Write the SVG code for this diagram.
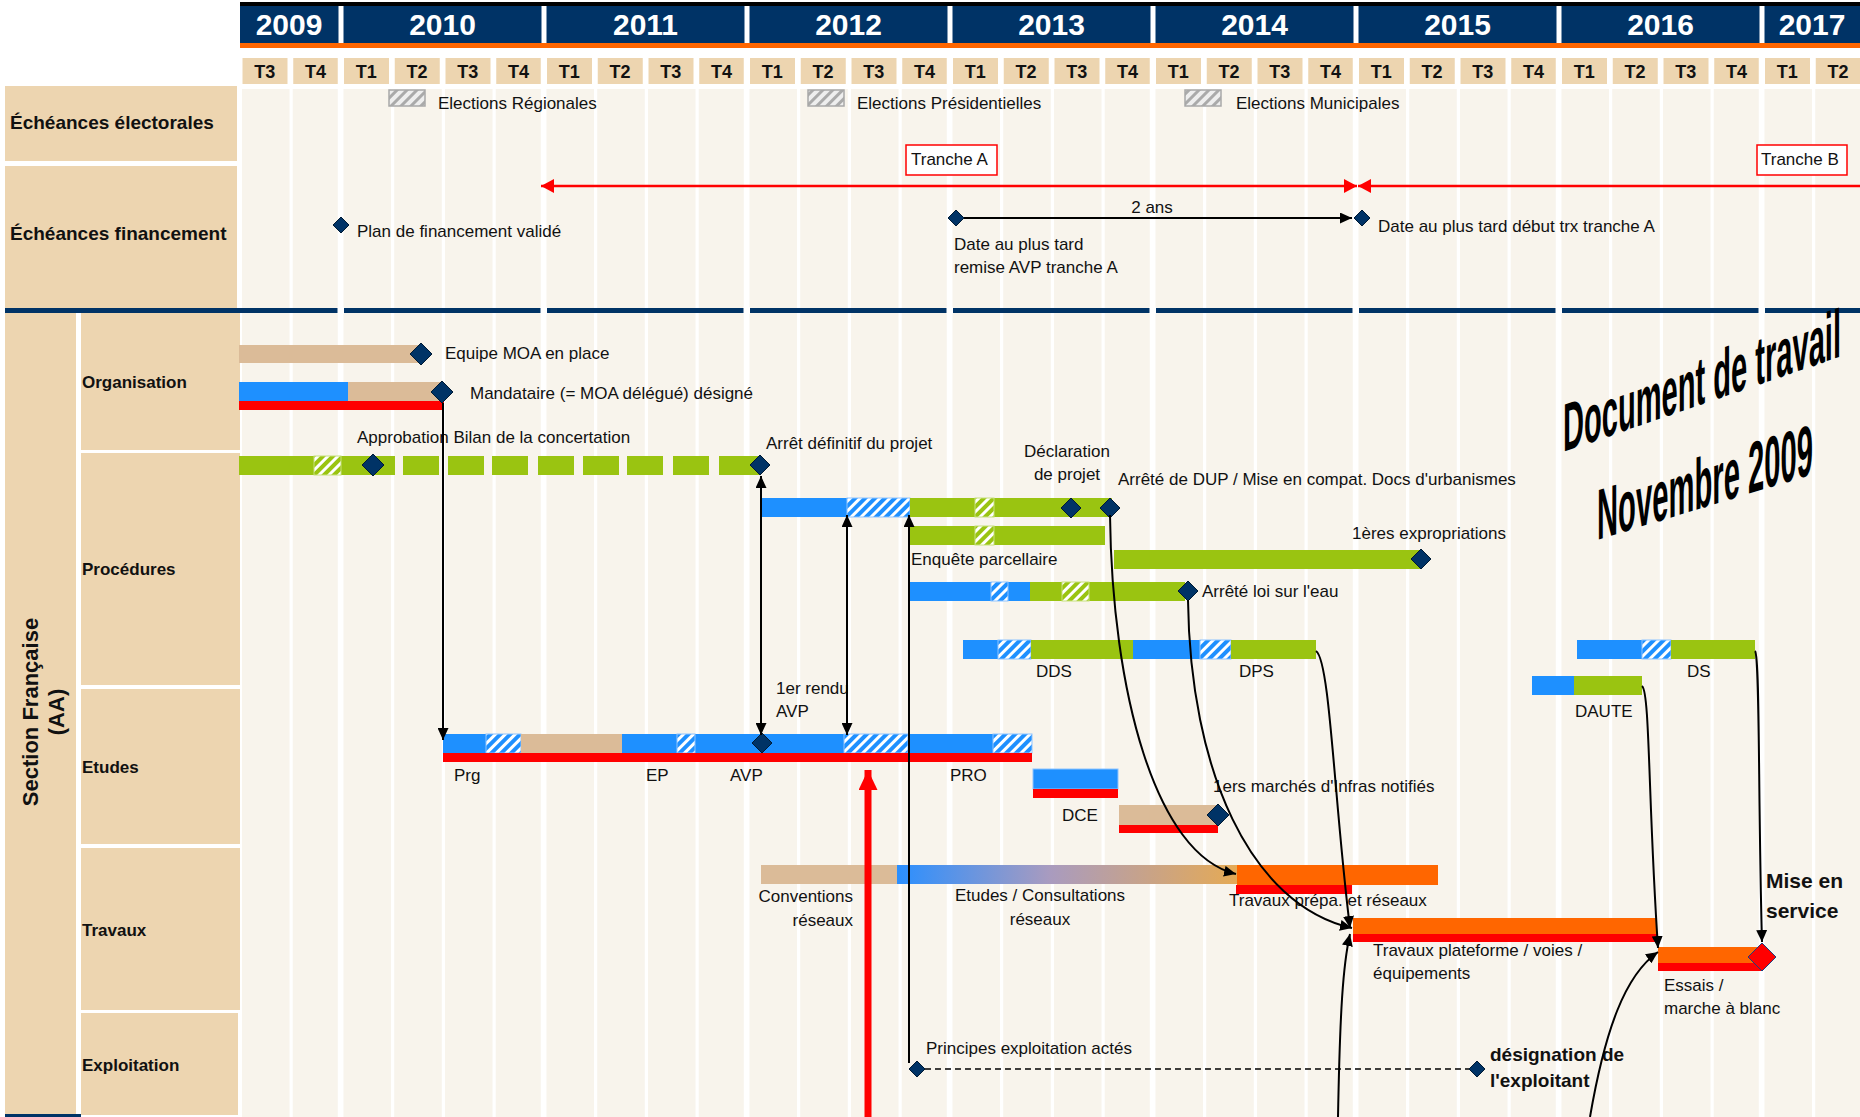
<svg xmlns="http://www.w3.org/2000/svg" width="1860" height="1117" viewBox="0 0 1860 1117">
<style>
.t{font-family:"Liberation Sans",Arial,sans-serif;font-size:17px;fill:#111}
.b{font-weight:bold}
.mid{text-anchor:middle}
.end{text-anchor:end}
.hy{font-family:"Liberation Sans",Arial,sans-serif;font-size:30px;font-weight:bold;fill:#fff;text-anchor:middle}
.hq{font-family:"Liberation Sans",Arial,sans-serif;font-size:18px;font-weight:bold;fill:#111;text-anchor:middle}
.col{fill:#F8F4EC}
.cell{fill:#EDD5B0}
.tan{fill:#DBBB98}
.blue{fill:#1E90FF}
.green{fill:#9AC411}
.red{fill:#FF0000}
.orange{fill:#FF6600}
.dia{fill:#003366;stroke:#001A33;stroke-width:1}
.hb{fill:url(#hatchBlue);stroke:#8EC3FF;stroke-width:1}
.hg{fill:url(#hatchGreen);stroke:#C6E07C;stroke-width:1}
.hgr{fill:url(#hatchGray);stroke:#A8A8A8;stroke-width:1.5}
.con{fill:none;stroke:#000;stroke-width:2}
</style>
<defs>
<pattern id="hatchBlue" width="7" height="7" patternUnits="userSpaceOnUse" patternTransform="rotate(45)"><rect width="7" height="7" fill="#1E90FF"/><rect width="3" height="7" fill="#fff"/></pattern>
<pattern id="hatchGreen" width="7" height="7" patternUnits="userSpaceOnUse" patternTransform="rotate(45)"><rect width="7" height="7" fill="#9AC411"/><rect width="3" height="7" fill="#fff"/></pattern>
<pattern id="hatchGray" width="7" height="7" patternUnits="userSpaceOnUse" patternTransform="rotate(45)"><rect width="7" height="7" fill="#EEEEEE"/><rect width="3" height="7" fill="#AAAAAA"/></pattern>
<linearGradient id="gradEC" x1="0" y1="0" x2="1" y2="0"><stop offset="0" stop-color="#2A8FFF"/><stop offset="0.45" stop-color="#A99BBF"/><stop offset="1" stop-color="#E5AA55"/></linearGradient>
<marker id="ab" viewBox="0 0 12 11" refX="12" refY="5.5" markerWidth="12" markerHeight="11" markerUnits="userSpaceOnUse" orient="auto-start-reverse"><path d="M0,0 L12,5.5 L0,11 z" fill="#000"/></marker>
<marker id="ar" viewBox="0 0 13 14" refX="13" refY="7" markerWidth="13" markerHeight="14" markerUnits="userSpaceOnUse" orient="auto-start-reverse"><path d="M0,0 L13,7 L0,14 z" fill="#FF0000"/></marker>
<marker id="abr" viewBox="0 0 20 19" refX="20" refY="9.5" markerWidth="20" markerHeight="19" markerUnits="userSpaceOnUse" orient="auto"><path d="M0,0 L20,9.5 L0,19 z" fill="#FF0000"/></marker>
</defs>
<rect width="1860" height="1117" fill="#fff"/>

<g id="columns">
<rect class="col" x="242" y="89" width="47.5" height="1028"/>
<rect class="col" x="292.75" y="89" width="45" height="1028"/>
<rect class="col" x="343.5" y="89" width="47.5" height="1028"/>
<rect class="col" x="394.25" y="89" width="47.5" height="1028"/>
<rect class="col" x="445" y="89" width="47.5" height="1028"/>
<rect class="col" x="495.75" y="89" width="45" height="1028"/>
<rect class="col" x="546.5" y="89" width="47.5" height="1028"/>
<rect class="col" x="597.25" y="89" width="47.5" height="1028"/>
<rect class="col" x="648" y="89" width="47.5" height="1028"/>
<rect class="col" x="698.75" y="89" width="45" height="1028"/>
<rect class="col" x="749.5" y="89" width="47.5" height="1028"/>
<rect class="col" x="800.25" y="89" width="47.5" height="1028"/>
<rect class="col" x="851" y="89" width="47.5" height="1028"/>
<rect class="col" x="901.75" y="89" width="45" height="1028"/>
<rect class="col" x="952.5" y="89" width="47.5" height="1028"/>
<rect class="col" x="1003.25" y="89" width="47.5" height="1028"/>
<rect class="col" x="1054" y="89" width="47.5" height="1028"/>
<rect class="col" x="1104.75" y="89" width="45" height="1028"/>
<rect class="col" x="1155.5" y="89" width="47.5" height="1028"/>
<rect class="col" x="1206.25" y="89" width="47.5" height="1028"/>
<rect class="col" x="1257" y="89" width="47.5" height="1028"/>
<rect class="col" x="1307.75" y="89" width="45" height="1028"/>
<rect class="col" x="1358.5" y="89" width="47.5" height="1028"/>
<rect class="col" x="1409.25" y="89" width="47.5" height="1028"/>
<rect class="col" x="1460" y="89" width="47.5" height="1028"/>
<rect class="col" x="1510.75" y="89" width="45" height="1028"/>
<rect class="col" x="1561.5" y="89" width="47.5" height="1028"/>
<rect class="col" x="1612.25" y="89" width="47.5" height="1028"/>
<rect class="col" x="1663" y="89" width="47.5" height="1028"/>
<rect class="col" x="1713.75" y="89" width="45" height="1028"/>
<rect class="col" x="1764.5" y="89" width="47.5" height="1028"/>
<rect class="col" x="1815.25" y="89" width="44.75" height="1028"/>
</g>

<g id="header">
<rect x="240" y="2" width="1620" height="5" fill="#000"/>
<rect x="240" y="6" width="1620" height="37" fill="#003366"/>
<rect x="240" y="43" width="1620" height="5" fill="#FF6600"/>
<g fill="#fff">
<rect x="338.5" y="6" width="5" height="37"/><rect x="541.5" y="6" width="5" height="37"/><rect x="744.5" y="6" width="5" height="37"/><rect x="947.5" y="6" width="5" height="37"/><rect x="1150.5" y="6" width="5" height="37"/><rect x="1353.5" y="6" width="5" height="37"/><rect x="1556.5" y="6" width="5" height="37"/><rect x="1759.5" y="6" width="5" height="37"/>
</g>
<text class="hy" x="289" y="35">2009</text><text class="hy" x="442.5" y="35">2010</text><text class="hy" x="645.5" y="35">2011</text><text class="hy" x="848.5" y="35">2012</text><text class="hy" x="1051.5" y="35">2013</text><text class="hy" x="1254.5" y="35">2014</text><text class="hy" x="1457.5" y="35">2015</text><text class="hy" x="1660.5" y="35">2016</text><text class="hy" x="1812" y="35">2017</text>
<g class="cell">
<rect x="242.5" y="58" width="45" height="26"/><rect x="293.25" y="58" width="44.5" height="26"/><rect x="344" y="58" width="45" height="26"/><rect x="394.75" y="58" width="45" height="26"/><rect x="445.5" y="58" width="45" height="26"/><rect x="496.25" y="58" width="44.5" height="26"/><rect x="547" y="58" width="45" height="26"/><rect x="597.75" y="58" width="45" height="26"/><rect x="648.5" y="58" width="45" height="26"/><rect x="699.25" y="58" width="44.5" height="26"/><rect x="750" y="58" width="45" height="26"/><rect x="800.75" y="58" width="45" height="26"/><rect x="851.5" y="58" width="45" height="26"/><rect x="902.25" y="58" width="44.5" height="26"/><rect x="953" y="58" width="45" height="26"/><rect x="1003.75" y="58" width="45" height="26"/><rect x="1054.5" y="58" width="45" height="26"/><rect x="1105.25" y="58" width="44.5" height="26"/><rect x="1156" y="58" width="45" height="26"/><rect x="1206.75" y="58" width="45" height="26"/><rect x="1257.5" y="58" width="45" height="26"/><rect x="1308.25" y="58" width="44.5" height="26"/><rect x="1359" y="58" width="45" height="26"/><rect x="1409.75" y="58" width="45" height="26"/><rect x="1460.5" y="58" width="45" height="26"/><rect x="1511.25" y="58" width="44.5" height="26"/><rect x="1562" y="58" width="45" height="26"/><rect x="1612.75" y="58" width="45" height="26"/><rect x="1663.5" y="58" width="45" height="26"/><rect x="1714.25" y="58" width="44.5" height="26"/><rect x="1765" y="58" width="45" height="26"/><rect x="1815.75" y="58" width="44.25" height="26"/>
</g>
<text class="hq" x="264.75" y="78">T3</text><text class="hq" x="315.5" y="78">T4</text><text class="hq" x="366.25" y="78">T1</text><text class="hq" x="417" y="78">T2</text><text class="hq" x="467.75" y="78">T3</text><text class="hq" x="518.5" y="78">T4</text><text class="hq" x="569.25" y="78">T1</text><text class="hq" x="620" y="78">T2</text><text class="hq" x="670.75" y="78">T3</text><text class="hq" x="721.5" y="78">T4</text><text class="hq" x="772.25" y="78">T1</text><text class="hq" x="823" y="78">T2</text><text class="hq" x="873.75" y="78">T3</text><text class="hq" x="924.5" y="78">T4</text><text class="hq" x="975.25" y="78">T1</text><text class="hq" x="1026" y="78">T2</text><text class="hq" x="1076.75" y="78">T3</text><text class="hq" x="1127.5" y="78">T4</text><text class="hq" x="1178.25" y="78">T1</text><text class="hq" x="1229" y="78">T2</text><text class="hq" x="1279.75" y="78">T3</text><text class="hq" x="1330.5" y="78">T4</text><text class="hq" x="1381.25" y="78">T1</text><text class="hq" x="1432" y="78">T2</text><text class="hq" x="1482.75" y="78">T3</text><text class="hq" x="1533.5" y="78">T4</text><text class="hq" x="1584.25" y="78">T1</text><text class="hq" x="1635" y="78">T2</text><text class="hq" x="1685.75" y="78">T3</text><text class="hq" x="1736.5" y="78">T4</text><text class="hq" x="1787.25" y="78">T1</text><text class="hq" x="1838" y="78">T2</text>
</g>

<g id="row-labels">
<rect class="cell" x="5" y="86" width="232" height="75"/>
<text class="t b" x="10" y="129" style="font-size:19px">Échéances électorales</text>
<rect class="cell" x="5" y="166" width="232" height="142"/>
<text class="t b" x="10" y="240" style="font-size:19px">Échéances financement</text>
<rect x="5" y="308" width="1855" height="5" fill="#003366"/>
<g fill="#fff"><rect x="337.5" y="307" width="6.5" height="7"/><rect x="540.5" y="307" width="6.5" height="7"/><rect x="743.5" y="307" width="6.5" height="7"/><rect x="946.5" y="307" width="6.5" height="7"/><rect x="1149.5" y="307" width="6.5" height="7"/><rect x="1352.5" y="307" width="6.5" height="7"/><rect x="1555.5" y="307" width="6.5" height="7"/><rect x="1758.5" y="307" width="6.5" height="7"/></g>
<rect class="cell" x="5" y="313" width="71" height="801"/>
<rect x="5" y="1114" width="76" height="3" fill="#003366"/>
<text class="t b mid" transform="translate(38,712) rotate(-90)" style="font-size:22px">Section Française</text>
<text class="t b mid" transform="translate(64,712) rotate(-90)" style="font-size:22px">(AA)</text>
<rect class="cell" x="81" y="313" width="159" height="137"/>
<text class="t b" x="82" y="388">Organisation</text>
<rect class="cell" x="81" y="453" width="159" height="232"/>
<text class="t b" x="82" y="575">Procédures</text>
<rect class="cell" x="81" y="689" width="159" height="155"/>
<text class="t b" x="82" y="773">Etudes</text>
<rect class="cell" x="81" y="848" width="159" height="162"/>
<text class="t b" x="82" y="936">Travaux</text>
<rect class="cell" x="81" y="1013" width="157" height="102"/>
<text class="t b" x="82" y="1071">Exploitation</text>
</g>

<g id="elections">
<rect class="hgr" x="389" y="90" width="36" height="16"/><text class="t" x="438" y="109">Elections Régionales</text>
<rect class="hgr" x="808" y="90" width="36" height="16"/><text class="t" x="857" y="109">Elections Présidentielles</text>
<rect class="hgr" x="1185" y="90" width="36" height="16"/><text class="t" x="1236" y="109">Elections Municipales</text>
</g>

<g id="financement">
<rect x="906" y="145" width="91" height="30" fill="#fff" stroke="#FF0000" stroke-width="1.5"/><text class="t" x="911" y="165">Tranche A</text>
<rect x="1757" y="145" width="90" height="30" fill="#fff" stroke="#FF0000" stroke-width="1.5"/><text class="t" x="1761" y="165">Tranche B</text>
<polygon class="dia" points="341,217 349,225 341,233 333,225"/><text class="t" x="357" y="237">Plan de financement validé</text>
<polygon class="dia" points="956,210 964,218 956,226 948,218"/>
<text class="t mid" x="1152" y="213">2 ans</text>
<text class="t" x="954" y="250">Date au plus tard</text><text class="t" x="954" y="273">remise AVP tranche A</text>
<polygon class="dia" points="1362,210 1370,218 1362,226 1354,218"/><text class="t" x="1378" y="232">Date au plus tard début trx tranche A</text>
</g>

<g id="organisation">
<rect class="tan" x="239" y="345" width="182" height="18"/>
<polygon class="dia" points="421,343 432,354 421,365 410,354"/>
<text class="t" x="445" y="359">Equipe MOA en place</text>
<rect class="blue" x="239" y="382" width="109" height="19"/><rect class="tan" x="348" y="382" width="94" height="19"/>
<rect class="red" x="239" y="401" width="205" height="9"/>
<polygon class="dia" points="442,381 453,392 442,403 431,392"/>
<text class="t" x="470" y="399">Mandataire (= MOA délégué) désigné</text>
</g>

<g id="procedures">
<text class="t" x="357" y="443">Approbation Bilan de la concertation</text>
<rect class="green" x="239" y="456" width="156" height="19"/><rect class="hg" x="314" y="456" width="27" height="19"/>
<g class="green"><rect x="403" y="456" width="36" height="19"/><rect x="448" y="456" width="36" height="19"/><rect x="492" y="456" width="36" height="19"/><rect x="538" y="456" width="36" height="19"/><rect x="583" y="456" width="36" height="19"/><rect x="627" y="456" width="36" height="19"/><rect x="673" y="456" width="36" height="19"/><rect x="719" y="456" width="41" height="19"/></g>
<polygon class="dia" points="373,454 384,465 373,476 362,465"/>
<polygon class="dia" points="760,455 770,465 760,475 750,465"/>
<text class="t" x="766" y="449">Arrêt définitif du projet</text>
<rect class="blue" x="761" y="498" width="86" height="19"/><rect class="hb" x="847" y="498" width="63" height="19"/>
<rect class="green" x="910" y="498" width="202" height="19"/><rect class="hg" x="975" y="498" width="19" height="19"/>
<polygon class="dia" points="1071,498 1081,508 1071,518 1061,508"/>
<polygon class="dia" points="1110,498 1120,508 1110,518 1100,508"/>
<text class="t mid" x="1067" y="457">Déclaration</text><text class="t mid" x="1067" y="480">de projet</text>
<text class="t" x="1118" y="485">Arrêté de DUP / Mise en compat. Docs d'urbanismes</text>
<rect class="green" x="910" y="526" width="195" height="19"/><rect class="hg" x="975" y="526" width="19" height="19"/>
<text class="t" x="911" y="565">Enquête parcellaire</text>
<rect class="green" x="1114" y="550" width="308" height="19"/>
<polygon class="dia" points="1421,549 1431,559 1421,569 1411,559"/>
<text class="t" x="1352" y="539">1ères expropriations</text>
<rect class="blue" x="910" y="582" width="120" height="19"/><rect class="hb" x="991" y="582" width="17" height="19"/>
<rect class="green" x="1030" y="582" width="155" height="19"/><rect class="hg" x="1062" y="582" width="27" height="19"/>
<polygon class="dia" points="1188,581 1198,591 1188,601 1178,591"/>
<text class="t" x="1202" y="597">Arrêté loi sur l'eau</text>
<rect class="blue" x="963" y="640" width="35" height="19"/><rect class="hb" x="998" y="640" width="33" height="19"/><rect class="green" x="1031" y="640" width="102" height="19"/>
<rect class="blue" x="1133" y="640" width="67" height="19"/><rect class="hb" x="1200" y="640" width="31" height="19"/><rect class="green" x="1231" y="640" width="85" height="19"/>
<text class="t" x="1036" y="677">DDS</text><text class="t" x="1239" y="677">DPS</text>
<rect class="blue" x="1577" y="640" width="65" height="19"/><rect class="hb" x="1642" y="640" width="29" height="19"/><rect class="green" x="1671" y="640" width="84" height="19"/>
<text class="t" x="1687" y="677">DS</text>
<rect class="blue" x="1532" y="676" width="42" height="19"/><rect class="green" x="1574" y="676" width="68" height="19"/>
<text class="t" x="1575" y="717">DAUTE</text>
</g>

<g id="etudes">
<rect class="blue" x="443" y="734" width="589" height="19"/>
<rect class="hb" x="486" y="734" width="35" height="19"/>
<rect class="tan" x="521" y="734" width="101" height="19"/>
<rect class="hb" x="677" y="734" width="18" height="19"/>
<rect class="hb" x="844" y="734" width="64" height="19"/>
<rect class="hb" x="993" y="734" width="39" height="19"/>
<rect class="red" x="443" y="753" width="589" height="9"/>
<polygon class="dia" points="762,733 772,743 762,753 752,743"/>
<text class="t" x="776" y="694">1er rendu</text><text class="t" x="776" y="717">AVP</text>
<text class="t" x="454" y="781">Prg</text><text class="t" x="646" y="781">EP</text><text class="t" x="730" y="781">AVP</text><text class="t" x="950" y="781">PRO</text>
<rect class="blue" x="1033" y="769" width="85" height="20" stroke="#8EC3FF" stroke-width="1"/>
<rect class="red" x="1033" y="789" width="85" height="9"/>
<text class="t" x="1062" y="821">DCE</text>
<rect class="tan" x="1119" y="805" width="99" height="20"/>
<rect class="red" x="1119" y="825" width="99" height="8"/>
<polygon class="dia" points="1218,804 1229,815 1218,826 1207,815"/>
<text class="t" x="1213" y="792">1ers marchés d'Infras notifiés</text>
</g>

<g id="travaux">
<rect class="tan" x="761" y="865" width="136" height="19"/>
<rect x="897" y="865" width="340" height="19" fill="url(#gradEC)"/>
<text class="t end" x="853" y="902">Conventions</text><text class="t end" x="853" y="926">réseaux</text>
<text class="t mid" x="1040" y="901">Etudes / Consultations</text><text class="t mid" x="1040" y="925">réseaux</text>
<rect class="orange" x="1237" y="865" width="201" height="20"/>
<rect class="red" x="1236" y="885" width="116" height="9"/>
<text class="t" x="1229" y="906">Travaux prépa. et réseaux</text>
<rect class="orange" x="1353" y="918" width="304" height="16"/>
<rect class="red" x="1353" y="934" width="304" height="8"/>
<text class="t" x="1373" y="956">Travaux plateforme / voies /</text><text class="t" x="1373" y="979">équipements</text>
<rect class="orange" x="1658" y="947" width="104" height="16"/>
<rect class="red" x="1658" y="963" width="104" height="8"/>
<polygon points="1762,943 1776,957 1762,971 1748,957" fill="#FF0000" stroke="#1F3F7F" stroke-width="1"/>
<text class="t" x="1664" y="991">Essais /</text><text class="t" x="1664" y="1014">marche à blanc</text>
<text class="t b" x="1766" y="888" style="font-size:21px">Mise en</text><text class="t b" x="1766" y="918" style="font-size:21px">service</text>
</g>

<g id="exploitation">
<text class="t" x="926" y="1054">Principes exploitation actés</text>
<polygon class="dia" points="917,1061 925,1069 917,1077 909,1069"/>
<polygon class="dia" points="1477,1061 1485,1069 1477,1077 1469,1069"/>
<text class="t b" x="1490" y="1061" style="font-size:19px">désignation de</text><text class="t b" x="1490" y="1087" style="font-size:19px">l'exploitant</text>
</g>

<g id="connectors">
<line x1="541" y1="186" x2="1357" y2="186" stroke="#FF0000" stroke-width="2.5" marker-start="url(#ar)" marker-end="url(#ar)"/>
<line x1="1358" y1="186" x2="1860" y2="186" stroke="#FF0000" stroke-width="2.5" marker-start="url(#ar)"/>
<line class="con" x1="964" y1="218" x2="1352" y2="218" marker-end="url(#ab)"/>
<line class="con" x1="443" y1="403" x2="443" y2="740" marker-end="url(#ab)"/>
<line class="con" x1="761" y1="476" x2="761" y2="735" marker-start="url(#ab)" marker-end="url(#ab)"/>
<line class="con" x1="847" y1="515" x2="847" y2="735" marker-start="url(#ab)" marker-end="url(#ab)"/>
<line class="con" x1="909" y1="1063" x2="909" y2="515" marker-end="url(#ab)"/>
<path class="con" d="M1110,515 C1112,690 1155,855 1236,874" marker-end="url(#ab)"/>
<path class="con" d="M1188,600 C1190,770 1250,905 1352,928" marker-end="url(#ab)"/>
<path class="con" d="M1316,651 C1330,660 1334,800 1350,928" marker-end="url(#ab)"/>
<path class="con" d="M1338,1117 C1340,1010 1343,965 1350,934" marker-end="url(#ab)"/>
<path class="con" d="M1642,686 C1650,692 1648,800 1658,948" marker-end="url(#ab)"/>
<path class="con" d="M1755,651 C1760,656 1758,800 1762,942" marker-end="url(#ab)"/>
<path class="con" d="M1590,1117 C1605,1030 1625,975 1658,952" marker-end="url(#ab)"/>
<line x1="925" y1="1069" x2="1469" y2="1069" stroke="#000" stroke-width="1.5" stroke-dasharray="6,4"/>
<line x1="868" y1="1117" x2="868" y2="770" stroke="#FF0000" stroke-width="7" marker-end="url(#abr)"/>
</g>

<g id="watermark" font-family="'Liberation Sans',Arial,sans-serif" font-weight="bold" fill="#000">
<text transform="translate(1563,452) skewY(-19) scale(1,2.43)" font-size="28" textLength="278" lengthAdjust="spacingAndGlyphs">Document de travail</text>
<text transform="translate(1597,540) skewY(-17) scale(1,2.48)" font-size="29" textLength="216" lengthAdjust="spacingAndGlyphs">Novembre 2009</text>
</g>
</svg>
